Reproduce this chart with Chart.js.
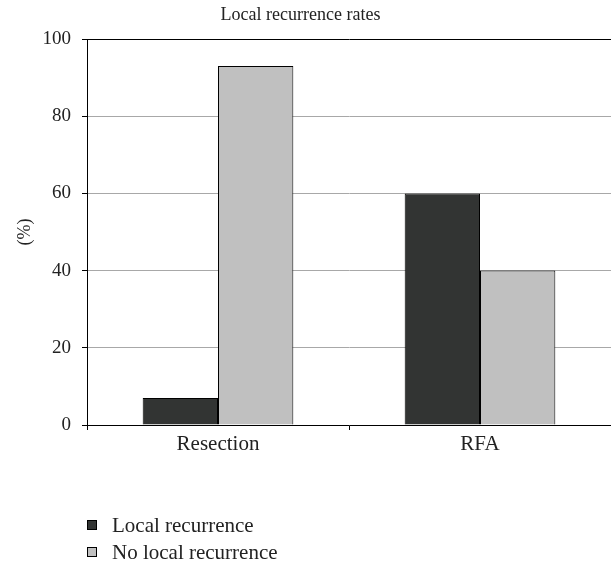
<!DOCTYPE html>
<html>
<head>
<meta charset="utf-8">
<script src="https://cdn.jsdelivr.net/npm/chart.js@4/dist/chart.umd.min.js"></script>
<style>
  html, body { margin: 0; padding: 0; background: #fff; }
  #wrap { width: 611px; height: 564px; }
</style>
</head>
<body>
<div id="wrap"><canvas id="recurrenceChart"></canvas></div>
<script>
const categories = ["Resection", "RFA"];
const localRecurrence = [7, 60];
const noLocalRecurrence = [93, 40];
const seriesNames = ["Local recurrence", "No local recurrence"];
const chartTitle = "Local recurrence rates";
const yAxisTitle = "(%)";

const serif = "'Liberation Serif', 'DejaVu Serif', serif";

// title over the page + vertical legend at the bottom left
const extras = {
    id: "extras",
    afterDraw(chart) {
        const c = chart.ctx;
        c.save();
        c.fillStyle = "#222";
        c.font = "18px " + serif;
        c.textAlign = "center";
        c.textBaseline = "middle";
        c.fillText(chartTitle, chart.width / 2 - 5, 15);

        c.textAlign = "left";
        c.font = "21px " + serif;
        chart.data.datasets.forEach((ds, i) => {
            const y = 526 + i * 27;
            c.fillStyle = ds.backgroundColor;
            c.fillRect(87.5, y - 5.5, 9, 9);
            c.strokeStyle = "#000";
            c.lineWidth = 1;
            c.strokeRect(87.5, y - 5.5, 9, 9);
            c.fillStyle = "#222";
            c.fillText(ds.label, 112, y);
        });
        c.restore();
    }
};

const ctx = document.getElementById("recurrenceChart").getContext("2d");
new Chart(ctx, {
    type: "bar",
    data: {
        labels: categories,
        datasets: [
            {
                label: seriesNames[0],
                data: localRecurrence,
                backgroundColor: "#323433",
                borderColor: "#000",
                borderWidth: 1
            },
            {
                label: seriesNames[1],
                data: noLocalRecurrence,
                backgroundColor: "#c0c0c0",
                borderColor: "#000",
                borderWidth: 1
            }
        ]
    },
    options: {
        responsive: true,
        maintainAspectRatio: false,
        animation: false,
        layout: { padding: { top: 39, right: 0, bottom: 99, left: 0 } },
        plugins: {
            legend: { display: false },
            title: { display: false },
            tooltip: { enabled: false }
        },
        datasets: {
            bar: { categoryPercentage: 0.575, barPercentage: 1 }
        },
        scales: {
            x: {
                afterFit(scale) { scale.height = 40; },
                grid: {
                    offset: true,
                    drawOnChartArea: false,
                    color: "#000",
                    tickLength: 5
                },
                border: { color: "#000", width: 1 },
                ticks: {
                    color: "#222",
                    font: { family: serif, size: 21 },
                    padding: 2
                }
            },
            y: {
                min: 0,
                max: 100,
                afterFit(scale) { scale.width = 87; },
                ticks: {
                    stepSize: 20,
                    color: "#222",
                    font: { family: serif, size: 19 },
                    padding: 11
                },
                grid: {
                    color: c => (c.tick && c.tick.value === 100 ? "#000" : "#a8a8a8"),
                    tickColor: "#000",
                    tickLength: 5,
                    lineWidth: 1
                },
                border: { color: "#000", width: 1 },
                title: {
                    display: true,
                    text: yAxisTitle,
                    color: "#222",
                    font: { family: serif, size: 18 },
                    padding: { top: 14, bottom: 0 }
                }
            }
        }
    },
    plugins: [extras]
});
</script>
</body>
</html>
